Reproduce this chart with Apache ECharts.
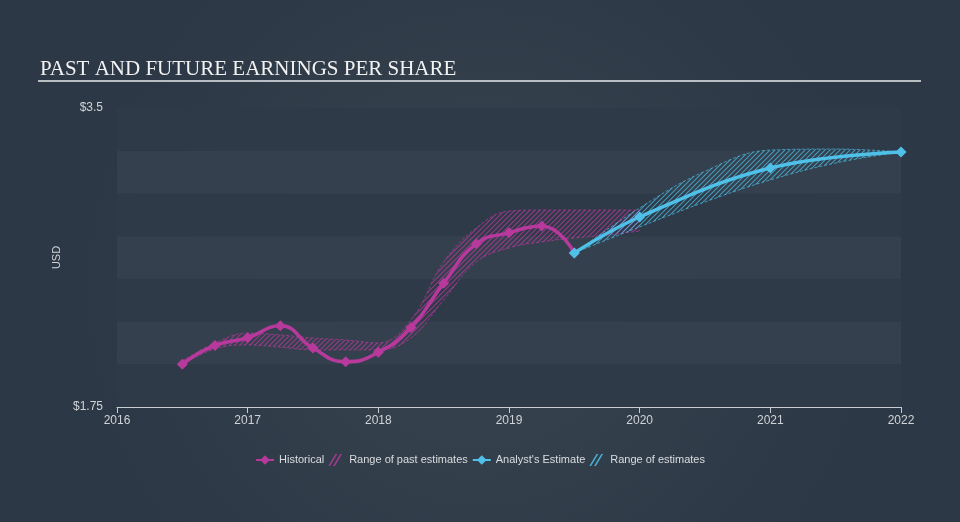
<!DOCTYPE html>
<html>
<head>
<meta charset="utf-8">
<script src="https://cdn.jsdelivr.net/npm/echarts@6/dist/echarts.min.js"></script>
<style>
html, body { margin: 0; padding: 0; background: #2f3c4a; }
#chart { width: 960px; height: 522px; }
</style>
</head>
<body>
<div id="chart"></div>
<script>
// EPS history (quarterly) and analyst estimates (yearly)
const histX = [2016.5, 2016.75, 2017, 2017.25, 2017.5, 2017.75, 2018, 2018.25, 2018.5, 2018.75, 2019, 2019.25, 2019.5];
const histEps = [2.0, 2.11, 2.155, 2.225, 2.095, 2.015, 2.07, 2.215, 2.475, 2.705, 2.77, 2.81, 2.652];

const pastRangeX = [2016.5, 2016.75, 2017, 2017.25, 2017.5, 2017.75, 2018, 2018.25, 2018.5, 2018.75, 2019, 2019.25, 2019.5, 2019.75, 2020];
const pastLow = [2.0, 2.09, 2.113, 2.1, 2.084, 2.084, 2.084, 2.154, 2.376, 2.599, 2.681, 2.716, 2.739, 2.757, 2.78];
const pastHigh = [2.02, 2.125, 2.183, 2.172, 2.154, 2.142, 2.125, 2.26, 2.599, 2.798, 2.897, 2.903, 2.903, 2.903, 2.903];

const estX = [2019.5, 2020, 2021, 2022];
const estEps = [2.652, 2.862, 3.149, 3.243];

const estRangeX = [2019.5, 2020, 2020.5, 2021, 2021.5, 2022];
const estLow = [2.652, 2.804, 2.95, 3.079, 3.178, 3.243];
const estHigh = [2.652, 2.915, 3.13, 3.254, 3.26, 3.243];

const yTicks = [1.75, 3.5];

const PINK = '#b8399c';
const BLUE = '#4fc1e9';

function hatch(color) {
  const c = document.createElement('canvas');
  c.width = 5; c.height = 5;
  const g = c.getContext('2d');
  g.strokeStyle = color;
  g.lineWidth = 1.1;
  g.beginPath();
  g.moveTo(0, 5); g.lineTo(5, 0);
  g.moveTo(-1, 1); g.lineTo(1, -1);
  g.moveTo(4, 6); g.lineTo(6, 4);
  g.stroke();
  return { image: c, repeat: 'repeat' };
}

function pairs(xs, ys) { return xs.map((x, i) => [x, ys[i]]); }
// value first so the stack runs on y (both axes are value axes)
function yFirst(xs, ys) { return xs.map((x, i) => [ys[i], x]); }

function rangeSeries(name, stack, xs, lo, hi, color, edge) {
  const diff = hi.map((h, i) => h - lo[i]);
  return [
    {
      type: 'line', stack: stack, smooth: 0.4, symbol: 'none', silent: true,
      data: yFirst(xs, lo), encode: { x: 1, y: 0 },
      lineStyle: { color: edge, width: 0.8, type: [3, 2] },
      z: 1
    },
    {
      name: name, type: 'line', stack: stack, smooth: 0.4, symbol: 'none', silent: true,
      data: yFirst(xs, diff), encode: { x: 1, y: 0 },
      itemStyle: { color: edge },
      lineStyle: { color: edge, width: 0.8, type: [3, 2] },
      areaStyle: { color: hatch(color), opacity: 1 },
      z: 1
    }
  ];
}

const chart = echarts.init(document.getElementById('chart'));
chart.setOption({
  backgroundColor: {
    type: 'radial', x: 0.5, y: 0.55, r: 0.75,
    colorStops: [{ offset: 0, color: '#38444f' }, { offset: 1, color: '#2c3845' }]
  },
  animation: false,
  title: {
    text: 'PAST AND FUTURE EARNINGS PER SHARE',
    left: 35, top: 54,
    textStyle: { fontFamily: 'Liberation Serif', fontWeight: 'normal', fontSize: 21, color: '#f2f2f2' }
  },
  graphic: [{
    type: 'rect', left: 38, top: 80,
    shape: { width: 883, height: 2 },
    style: { fill: '#b9bec4' }
  }],
  grid: { left: 117, right: 59, top: 108, bottom: 115 },
  legend: {
    left: 'center', top: 449,
    itemWidth: 18, itemHeight: 12, itemGap: 4,
    textStyle: { color: '#dadde0', fontSize: 11, fontFamily: 'Liberation Sans' },
    data: [
      { name: 'Historical' },
      { name: 'Range of past estimates', icon: 'path://M0,10L6,0H7.5L1.5,10Z M4,10L10,0H11.5L5.5,10Z' },
      { name: "Analyst's Estimate" },
      { name: 'Range of estimates', icon: 'path://M0,10L6,0H7.5L1.5,10Z M4,10L10,0H11.5L5.5,10Z' }
    ]
  },
  xAxis: {
    type: 'value', min: 2016, max: 2022, interval: 1,
    axisLine: { lineStyle: { color: '#c8cdd2', width: 1 } },
    axisTick: { show: true, length: 6, lineStyle: { color: '#c8cdd2' } },
    axisLabel: { color: '#d0d4d8', fontSize: 12, fontFamily: 'Liberation Sans', margin: 8, formatter: v => String(v) },
    splitLine: { show: false }
  },
  yAxis: {
    type: 'value', min: 1.75, max: 3.5, interval: 0.25,
    name: 'USD', nameLocation: 'middle', nameGap: 44,
    nameTextStyle: { color: '#d0d4d8', fontSize: 11, fontFamily: 'Liberation Sans' },
    axisLine: { show: false }, axisTick: { show: false },
    axisLabel: {
      color: '#d0d4d8', fontSize: 12, fontFamily: 'Liberation Sans', margin: 14,
      formatter: v => (yTicks.indexOf(v) >= 0 ? '$' + v : '')
    },
    splitLine: { show: false },
    splitArea: { show: true, areaStyle: { color: ['#2e3a48', '#34404d'] } }
  },
  series: [
    ...rangeSeries('Range of past estimates', 'past', pastRangeX, pastLow, pastHigh, 'rgba(184,57,156,0.75)', 'rgba(184,57,156,0.85)'),
    ...rangeSeries('Range of estimates', 'est', estRangeX, estLow, estHigh, 'rgba(79,193,233,0.7)', 'rgba(79,193,233,0.85)'),
    {
      name: 'Historical', type: 'line', smooth: 0.5,
      data: pairs(histX, histEps),
      symbol: 'diamond', symbolSize: 11,
      itemStyle: { color: PINK },
      lineStyle: { color: PINK, width: 3.5 },
      z: 3
    },
    {
      name: "Analyst's Estimate", type: 'line', smooth: 0.4,
      data: pairs(estX, estEps),
      symbol: 'diamond', symbolSize: 11,
      itemStyle: { color: BLUE },
      lineStyle: { color: BLUE, width: 3.5 },
      z: 4
    }
  ]
});
</script>
</body>
</html>
